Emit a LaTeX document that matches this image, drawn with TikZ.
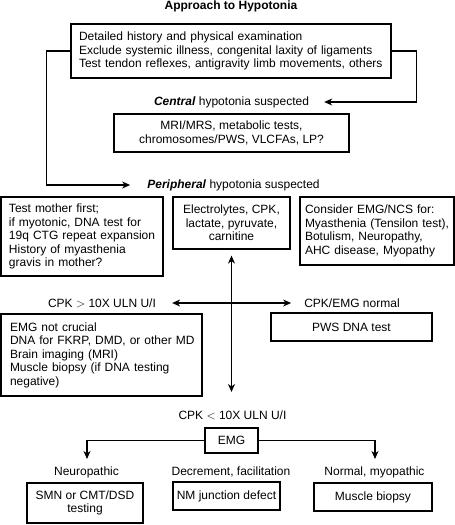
\documentclass[tikz,border=0pt]{standalone}
\usepackage{fontspec}
\setmainfont{Liberation Sans}
\usetikzlibrary{arrows.meta}
\newcommand\myfs{\fontsize{12}{13.5}\selectfont}
\begin{document}
\begin{tikzpicture}[x=1pt,y=-1pt,
  box/.style={draw, line width=1.2pt, inner sep=0pt, font=\myfs},
  lbl/.style={inner sep=0pt, font=\myfs},
  tip/.style={},
  arr/.style={line width=1.1pt, -{Stealth[length=8pt,width=7pt,inset=2.5pt]}},
  darr/.style={line width=1.1pt, {Stealth[length=8pt,width=7pt,inset=2.5pt]}-{Stealth[length=8pt,width=7pt,inset=2.5pt]}}]
\useasboundingbox (0,0) rectangle (455,525);

\node[lbl, font=\myfs\bfseries] (title) at (231,6) {Approach to Hypotonia};

\node[box, minimum width=320, minimum height=54, inner xsep=8pt, text width=304pt, align=left] (exam) at (231,51)
  {\mbox{Detailed history and physical examination}\\
   \mbox{Exclude systemic illness, congenital laxity of ligaments}\\
   \mbox{Test tendon reflexes, antigravity limb movements, others}};

\node[lbl] (central) at (231.5,102) {\textbf{\textit{Central}} hypotonia suspected};

\node[box, minimum width=235, minimum height=38, align=center] (mri) at (231.5,133)
  {MRI/MRS, metabolic tests,\\chromosomes/PWS, VLCFAs, LP?};

\node[lbl] (periph) at (233.5,185) {\textbf{\textit{Peripheral}} hypotonia suspected};

\node[box, minimum width=162, minimum height=79, inner xsep=8pt, text width=146pt, align=left] (mother) at (82,236.5)
  {\mbox{Test mother first;}\\
   \mbox{if myotonic, DNA test for}\\
   \mbox{19q CTG repeat expansion}\\
   \mbox{History of myasthenia}\\
   \mbox{gravis in mother?}};

\node[box, minimum width=117, minimum height=52, align=center] (mid) at (231.5,223)
  {Electrolytes, CPK,\\lactate, pyruvate,\\carnitine};

\node[box, minimum width=154, minimum height=68, inner xsep=5pt, text width=144pt, align=left] (emgncs) at (377,231)
  {\mbox{Consider EMG/NCS for:}\\
   \mbox{Myasthenia (Tensilon test),}\\
   \mbox{Botulism, Neuropathy,}\\
   \mbox{AHC disease, Myopathy}};

\node[lbl] (cpkgt) at (102,303) {CPK $>$ 10X ULN U/I};
\node[lbl] (cpknorm) at (352,303) {CPK/EMG normal};

\node[box, minimum width=201, minimum height=82, inner xsep=9pt, text width=183pt, align=left] (notcrucial) at (101.5,355)
  {\mbox{EMG not crucial}\\
   \mbox{DNA for FKRP, DMD, or other MD}\\
   \mbox{Brain imaging (MRI)}\\
   \mbox{Muscle biopsy (if DNA testing}\\
   \mbox{negative)}};

\node[box, minimum width=161, minimum height=28] (pws) at (351.5,327) {PWS DNA test};

\node[lbl] (cpkless) at (232.5,415) {CPK $<$ 10X ULN U/I};
\node[box, minimum width=53, minimum height=25] (emg) at (231.5,440.5) {EMG};

\node[lbl] (neuro) at (86.5,472) {Neuropathic};
\node[lbl] (decr) at (231,472) {Decrement, facilitation};
\node[lbl] (normmyo) at (374.5,472) {Normal, myopathic};

\node[box, minimum width=116, minimum height=40, align=center] (smn) at (85,503) {SMN or CMT/DSD\\testing};
\node[box, minimum width=107, minimum height=28] (nm) at (226.5,496) {NM junction defect};
\node[box, minimum width=118, minimum height=28] (musc) at (373,497) {Muscle biopsy};

% connectors
\draw[arr] (exam.east) -- ++(25,0) |- ([xshift=15pt]central.east);
\draw[arr] (exam.west) -- ++(-24,0) |- ([xshift=-17pt]periph.west);

\coordinate (vbot) at (231.5,392);
\draw[darr, shorten <=6pt] (mid.south) -- (vbot);
\draw[darr, shorten <=16pt, shorten >=13pt] (cpkgt.east) -- (cpknorm.west);

\coordinate (tl) at (87,459);
\coordinate (tr) at (375,459);
\draw[arr] (emg.west) -| (tl);
\draw[arr] (emg.east) -| (tr);
\end{tikzpicture}
\end{document}
